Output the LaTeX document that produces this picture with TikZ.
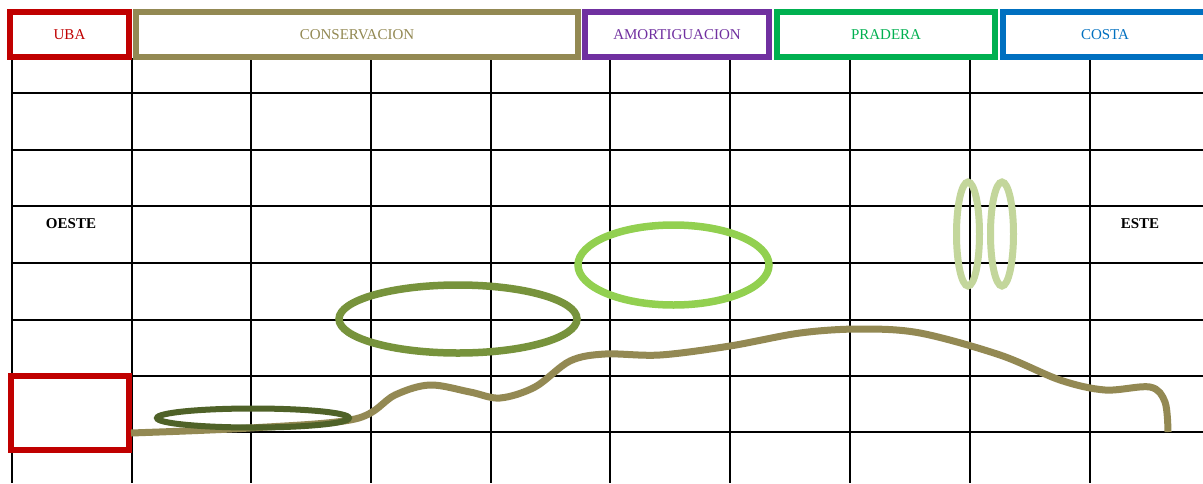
\documentclass[tikz,border=0pt]{standalone}
\usepackage{fontspec}
\setmainfont{Liberation Serif}
\usetikzlibrary{shapes.geometric}
\definecolor{ubared}{HTML}{C00000}
\definecolor{olive}{HTML}{938953}
\definecolor{purp}{HTML}{7030A0}
\definecolor{grn}{HTML}{00B050}
\definecolor{blu}{HTML}{0070C0}
\definecolor{lgreen}{HTML}{92D050}
\definecolor{ogreen}{HTML}{77933C}
\definecolor{dgreen}{HTML}{4F6228}
\definecolor{pgreen}{HTML}{C3D69B}
\tikzset{
  gridline/.style={draw=black, line width=2pt},
  hdr/.style={line width=6pt, minimum height=45pt, inner sep=0pt, outer sep=0pt, font=\fontsize{15}{18}\selectfont, fill=white},
  ell/.style={ellipse, inner sep=0pt, outer sep=0pt},
  lbl/.style={font=\fontsize{15}{18}\selectfont\bfseries},
  curve/.style={draw=olive, line width=7pt}
}
\begin{document}
\begin{tikzpicture}[x=1pt,y=-1pt]
\useasboundingbox[fill=white] (0,0) rectangle (1203,483);
% grid
\foreach \x in {12,132,251,371,491,610,730,850,970,1090}
  \draw[gridline] (\x,58) -- (\x,483);
\foreach \y in {93,150,206,263,320,376,432}
  \draw[gridline] (12,\y) -- (1203,\y);
% header
\node[hdr, draw=ubared, text=ubared, minimum width=119pt] (uba) at (69.5,34.5) {UBA};
\node[hdr, draw=olive, text=olive, minimum width=442pt] (cons) at (357,34.5) {CONSERVACION};
\node[hdr, draw=purp, text=purp, minimum width=184pt] (amor) at (677,34.5) {AMORTIGUACION};
\node[hdr, draw=grn, text=grn, minimum width=218pt] (prad) at (886,34.5) {PRADERA};
\node[hdr, draw=blu, text=blu, minimum width=210pt] (costa) at (1108,34.5) {};
\node[text=blu, font=\fontsize{15}{18}\selectfont] (costat) at (1105,34.5) {COSTA};
% labels
\node[lbl] (oeste) at (71,224) {OESTE};
\node[lbl] (este) at (1140,224) {ESTE};
% red box
\node[draw=ubared, line width=6pt, minimum width=118pt, minimum height=74pt, inner sep=0pt, outer sep=0pt, fill=white] (ubabox) at (69.5,413) {};
% curve
\coordinate (cstart) at (131,433);
\coordinate (cend) at (1168,432);
\draw[curve] plot[smooth, tension=0.55] coordinates {(cstart) (250,428) (355,419) (395,395) (430,385) (470,392) (500,398) (535,387) (570,361) (605,354) (660,355) (730,346) (800,333) (860,329) (920,333) (1000,355) (1060,380) (1105,390) (1150,387) (1165,402) (cend)};
% ellipses
\node[ell, draw=lgreen, line width=7.5pt, minimum width=191pt, minimum height=80pt] (e1) at (673.5,265) {};
\node[ell, draw=ogreen, line width=7.5pt, minimum width=238pt, minimum height=68pt] (e2) at (458,319) {};
\node[ell, draw=dgreen, line width=6pt, minimum width=192pt, minimum height=19pt] (e3) at (253,418) {};
\node[ell, draw=pgreen, line width=7pt, minimum width=23pt, minimum height=104pt] (e4) at (968,234) {};
\node[ell, draw=pgreen, line width=7pt, minimum width=23pt, minimum height=104pt] (e5) at (1002,234) {};
\end{tikzpicture}
\end{document}
